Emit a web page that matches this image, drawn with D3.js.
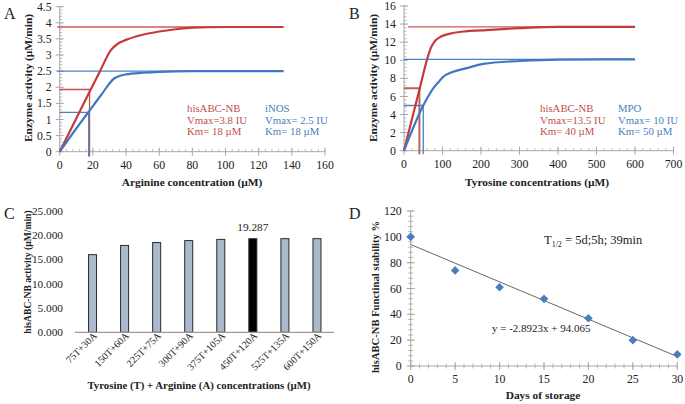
<!DOCTYPE html>
<html><head><meta charset="utf-8">
<script src="https://cdn.jsdelivr.net/npm/d3@7"></script>
<style>
body{margin:0;background:#fff}
text{font-family:"Liberation Serif","Times New Roman",serif;fill:#222}
</style>
</head><body>
<svg id="chart" width="685" height="404"></svg>
<script>
// ---------- DATA ----------
// Panel A: Arginine kinetics
const aRedX  = [0, 18, 24.3, 31, 35, 40, 50, 60, 70, 80, 100, 135];
const aRedY  = [0, 1.86, 2.5, 3.16, 3.35, 3.47, 3.63, 3.73, 3.8, 3.85, 3.87, 3.87];
const aBlueX = [0, 10, 17.5, 25, 33, 36, 40, 50, 60, 80, 135];
const aBlueY = [0, 0.72, 1.24, 1.76, 2.28, 2.35, 2.4, 2.45, 2.48, 2.5, 2.5];
const aVmaxRed = 3.87, aVmaxBlue = 2.5;
const aKmRed = [18, 1.93], aKmBlue = [17.5, 1.22];
const aXTicks = [0, 20, 40, 60, 80, 100, 120, 140, 160];
const aYTicks = [0, 0.5, 1, 1.5, 2, 2.5, 3, 3.5, 4, 4.5];

// Panel B: Tyrosine kinetics
const bRedX  = [0, 20, 41, 60, 70, 80, 95, 120, 160, 200, 300, 400, 600];
const bRedY  = [0, 3.4, 6.9, 10.1, 11.4, 12.1, 12.6, 12.95, 13.2, 13.3, 13.55, 13.7, 13.7];
const bBlueX = [0, 50, 76, 90, 100, 128, 160, 206, 300, 400, 600];
const bBlueY = [0, 5, 6.9, 7.6, 8.1, 8.74, 9.1, 9.6, 9.92, 10.08, 10.1];
const bVmaxRed = 13.7, bVmaxBlue = 10.1;
const bKmRed = [40, 6.9], bKmBlue = [50, 5];
const bXTicks = [0, 100, 200, 300, 400, 500, 600, 700];
const bYTicks = [0, 2, 4, 6, 8, 10, 12, 14, 16];

// Panel C: combined activity
const mixLabels = ["75T+30A","150T+60A","225T+75A","300T+90A","375T+105A","450T+120A","525T+135A","600T+150A"];
const mixActivity = [16.0, 17.9, 18.5, 18.9, 19.15, 19.287, 19.3, 19.3];
const cYTicks = [0, 5, 10, 15, 20, 25];

// Panel D: stability
const days = [0, 5, 10, 15, 20, 25, 30];
const stability = [100, 74, 61, 52, 37, 20, 9];
const trendSlope = -2.8923, trendIntercept = 94.065;
const dXTicks = [0, 5, 10, 15, 20, 25, 30];
const dYTicks = [0, 20, 40, 60, 80, 100, 120];

// ---------- STYLE ----------
const AXIS = "#a8a8a8";
const RED = "#c63a3c", BLUE = "#3f78c0";
const RED_T = "#c0504d", BLUE_T = "#4a7ebb";
const TITLE_FS = 11.4;

const svg = d3.select("#chart");

function drawAxis(g, o) {
  const s = o.scale, d = s.domain();
  const minors = d3.range(d[0], d[1] + o.minor / 2, o.minor);
  if (o.orient === "x") {
    g.append("line").attr("x1", s(d[0])).attr("x2", s(d[1])).attr("y1", o.at).attr("y2", o.at)
      .attr("stroke", AXIS);
    g.selectAll(null).data(minors).join("line")
      .attr("x1", v => s(v)).attr("x2", v => s(v)).attr("y1", o.at - 2.5).attr("y2", o.at + (o.minorCross ? 2.5 : 0))
      .attr("stroke", AXIS).attr("stroke-width", 0.8);
    g.selectAll(null).data(o.majors).join("line")
      .attr("x1", v => s(v)).attr("x2", v => s(v)).attr("y1", o.at - 4).attr("y2", o.at + 4)
      .attr("stroke", AXIS);
    g.selectAll(null).data(o.majors).join("text")
      .attr("x", v => s(v)).attr("y", o.at + o.labelOff).attr("text-anchor", "middle")
      .attr("font-size", o.fs).text(o.fmt);
  } else {
    g.append("line").attr("y1", s(d[0])).attr("y2", s(d[1])).attr("x1", o.at).attr("x2", o.at)
      .attr("stroke", AXIS);
    g.selectAll(null).data(minors).join("line")
      .attr("y1", v => s(v)).attr("y2", v => s(v)).attr("x1", o.at - (o.minorCross ? 2.5 : 0)).attr("x2", o.at + 2.5)
      .attr("stroke", AXIS).attr("stroke-width", 0.8);
    g.selectAll(null).data(o.majors).join("line")
      .attr("y1", v => s(v)).attr("y2", v => s(v)).attr("x1", o.at - 4).attr("x2", o.at + 4)
      .attr("stroke", AXIS);
    g.selectAll(null).data(o.majors).join("text")
      .attr("y", v => s(v)).attr("x", o.at - o.labelOff).attr("dy", "0.35em").attr("text-anchor", "end")
      .attr("font-size", o.fs).text(o.fmt);
  }
}

function title(g, txt, x, y, rot, fs) {
  g.append("text").attr("transform", `translate(${x},${y})` + (rot ? " rotate(-90)" : ""))
    .attr("text-anchor", "middle").attr("font-weight", "bold").attr("font-size", fs).text(txt);
}

function kineticPanel(cfg) {
  const g = svg.append("g");
  const x = d3.scaleLinear().domain(cfg.xDom).range(cfg.xRange);
  const y = d3.scaleLinear().domain(cfg.yDom).range(cfg.yRange);
  drawAxis(g, {orient: "x", scale: x, at: y(0), majors: cfg.xTicks, minor: cfg.xMinor, labelOff: 17, fs: 11.8, fmt: d => d});
  drawAxis(g, {orient: "y", scale: y, at: x(0), majors: cfg.yTicks, minor: cfg.yMinor, labelOff: 8, fs: 11.8, fmt: d => d});

  // Vmax reference lines
  g.append("line").attr("x1", x(cfg.vRedFrom)).attr("x2", x(cfg.lineEnd)).attr("y1", y(cfg.vmaxRed)).attr("y2", y(cfg.vmaxRed))
    .attr("stroke", "#cc5a5a").attr("stroke-width", 1.3);
  g.append("line").attr("x1", x(cfg.vBlueFrom)).attr("x2", x(cfg.lineEnd)).attr("y1", y(cfg.vmaxBlue)).attr("y2", y(cfg.vmaxBlue))
    .attr("stroke", "#4a80c4").attr("stroke-width", 1.3);
  // Km drop lines
  [[cfg.kmRed, cfg.kmRedColor, cfg.kmRedW], [cfg.kmBlue, "#4a80c4", 1.3]].forEach(([k, c, w]) => {
    g.append("path").attr("fill", "none").attr("stroke", c).attr("stroke-width", w)
      .attr("d", `M${x(0)},${y(k[1])}H${x(k[0])}V${y(cfg.dropBottom)}`);
  });

  const line = d3.line().x(d => x(d[0])).y(d => y(d[1])).curve(d3.curveMonotoneX);
  g.append("path").attr("d", line(d3.zip(cfg.redX, cfg.redY))).attr("fill", "none").attr("stroke", RED).attr("stroke-width", 2.2);
  g.append("path").attr("d", line(d3.zip(cfg.blueX, cfg.blueY))).attr("fill", "none").attr("stroke", BLUE).attr("stroke-width", 2.2);

  // annotations
  const ann = (txts, xx, col) => txts.forEach((t, i) =>
    g.append("text").attr("x", xx).attr("y", cfg.annY + i * 11.5).attr("font-size", 10.8).style("fill", col).text(t));
  ann(cfg.redText, cfg.annRedX, RED_T);
  ann(cfg.blueText, cfg.annBlueX, BLUE_T);

  g.append("text").attr("x", cfg.letterX).attr("y", 19).attr("font-size", 16).text(cfg.letter);
  title(g, cfg.xTitle, cfg.xTitleX, 186, false, TITLE_FS);
  title(g, cfg.yTitle, cfg.yTitleX, 78, true, TITLE_FS);
}

kineticPanel({
  xDom: [0, 160], xRange: [59.7, 325], yDom: [0, 4.5], yRange: [151.7, 6.7],
  xTicks: aXTicks, yTicks: aYTicks, xMinor: 4, yMinor: 0.1,
  vmaxRed: aVmaxRed, vmaxBlue: aVmaxBlue, vRedFrom: -1.5, vBlueFrom: -1.5, lineEnd: 135,
  kmRed: aKmRed, kmBlue: aKmBlue, kmRedColor: "#c85050", kmRedW: 1.3, dropBottom: -0.15,
  redX: aRedX, redY: aRedY, blueX: aBlueX, blueY: aBlueY,
  redText: ["hisABC-NB", "Vmax=3.8 IU", "Km= 18 \u00b5M"], blueText: ["iNOS", "Vmax= 2.5 IU", "Km= 18 \u00b5M"],
  annY: 112, annRedX: 187, annBlueX: 265,
  letter: "A", letterX: 4,
  xTitle: "Arginine concentration (\u00b5M)", xTitleX: 192,
  yTitle: "Enzyme activity (\u00b5M/min)", yTitleX: 32
});

kineticPanel({
  xDom: [0, 700], xRange: [404, 673.5], yDom: [0, 16], yRange: [150.7, 6],
  xTicks: bXTicks, yTicks: bYTicks, xMinor: 20, yMinor: 0.4,
  vmaxRed: bVmaxRed, vmaxBlue: bVmaxBlue, vRedFrom: 10, vBlueFrom: 0, lineEnd: 600,
  kmRed: bKmRed, kmBlue: bKmBlue, kmRedColor: "#b8645e", kmRedW: 2, dropBottom: -0.4,
  redX: bRedX, redY: bRedY, blueX: bBlueX, blueY: bBlueY,
  redText: ["hisABC-NB", "Vmax=13.5 IU", "Km= 40 \u00b5M"], blueText: ["MPO", "Vmax= 10 IU", "Km= 50 \u00b5M"],
  annY: 112, annRedX: 540, annBlueX: 618,
  letter: "B", letterX: 349,
  xTitle: "Tyrosine concentrations (\u00b5M)", xTitleX: 537,
  yTitle: "Enzyme activity (\u00b5M/min)", yTitleX: 377
});

// ---------- Panel C ----------
{
  const g = svg.append("g");
  const x = d3.scaleBand().domain(mixLabels).range([76.5, 333]).paddingInner(0.75).paddingOuter(0.375);
  const y = d3.scaleLinear().domain([0, 25]).range([332.3, 211]);
  g.selectAll(null).data(cYTicks).join("text")
    .attr("x", 63).attr("y", d => y(d)).attr("dy", "0.35em").attr("text-anchor", "end")
    .attr("font-size", 11.3).text(d => d3.format(".3f")(d));
  g.selectAll(null).data(mixLabels).join("rect")
    .attr("x", d => x(d)).attr("width", x.bandwidth())
    .attr("y", (d, i) => y(mixActivity[i])).attr("height", (d, i) => y(0) - y(mixActivity[i]))
    .attr("fill", (d, i) => i === 5 ? "#000" : "#a9bacb")
    .attr("stroke", "#2a2a2a").attr("stroke-width", 1);
  g.append("line").attr("x1", 75).attr("x2", 334).attr("y1", y(0)).attr("y2", y(0)).attr("stroke", "#9a9a9a").attr("stroke-width", 1.2);
  g.append("text").attr("x", x(mixLabels[5]) + x.bandwidth() / 2).attr("y", y(mixActivity[5]) - 8)
    .attr("text-anchor", "middle").attr("font-size", 11.3).text(mixActivity[5]);
  g.selectAll(null).data(mixLabels).join("text")
    .attr("transform", d => `translate(${x(d) + x.bandwidth() / 2 + 5},${y(0) + 4}) rotate(-45)`)
    .attr("text-anchor", "end").attr("font-size", 10).text(d => d);
  g.append("text").attr("x", 4).attr("y", 219).attr("font-size", 16).text("C");
  title(g, "Tyrosine (T) + Arginine (A) concentrations (\u00b5M)", 199, 389, false, 10.8);
  title(g, "hisABC-NB activity (\u00b5M/min)", 31, 272, true, 9.6);
}

// ---------- Panel D ----------
{
  const g = svg.append("g");
  const x = d3.scaleLinear().domain([0, 30]).range([410.7, 677.3]);
  const y = d3.scaleLinear().domain([0, 120]).range([366, 211]);
  drawAxis(g, {orient: "x", scale: x, at: y(0), majors: dXTicks, minor: 1, minorCross: true, labelOff: 17, fs: 11.8, fmt: d => d});
  drawAxis(g, {orient: "y", scale: y, at: x(0), majors: dYTicks, minor: 4, minorCross: true, labelOff: 9, fs: 11.8, fmt: d => d});
  g.append("line").attr("x1", x(0)).attr("x2", x(30))
    .attr("y1", y(trendIntercept)).attr("y2", y(trendIntercept + trendSlope * 30))
    .attr("stroke", "#666").attr("stroke-width", 1);
  g.selectAll(null).data(days).join("path")
    .attr("transform", (d, i) => `translate(${x(d)},${y(stability[i])})`)
    .attr("d", "M0,-4.3L4.3,0L0,4.3L-4.3,0Z").attr("fill", "#4a7ebb");
  const t = g.append("text").attr("x", 544).attr("y", 244).attr("font-size", 12.5);
  t.append("tspan").text("T");
  t.append("tspan").attr("font-size", 8).attr("dy", 3).text("1/2");
  t.append("tspan").attr("dy", -3).text(" = 5d;5h; 39min");
  g.append("text").attr("x", 492).attr("y", 332).attr("font-size", 11).text(`y = ${trendSlope}x + ${trendIntercept}`);
  g.append("text").attr("x", 349).attr("y", 219).attr("font-size", 16).text("D");
  title(g, "Days of storage", 543, 399, false, TITLE_FS);
  title(g, "hisABC-NB Functinal stability %", 379, 297, true, 10.6);
}
</script>
</body></html>
